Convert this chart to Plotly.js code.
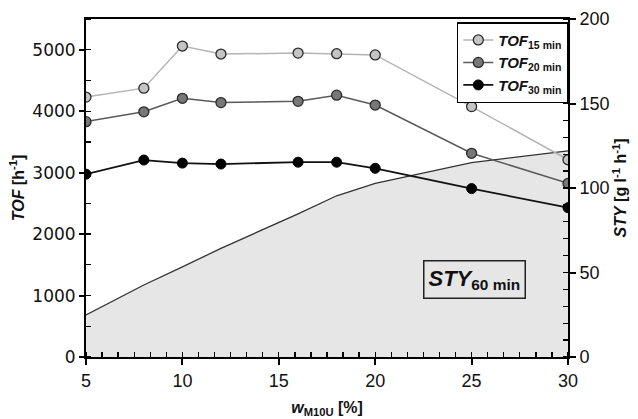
<!DOCTYPE html>
<html>
<head>
<meta charset="utf-8">
<script src="https://cdn.plot.ly/plotly-3.0.1.min.js"></script>
<style>html,body{margin:0;padding:0;background:#fff}#chart{width:638px;height:419px}</style>
</head>
<body>
<div id="chart"></div>
<script>
// Data
const wM10U = [5, 8, 10, 12, 16, 18, 20, 25, 30];
const tof15 = [4230, 4375, 5060, 4930, 4945, 4935, 4915, 4075, 3210];
const tof20 = [3830, 3990, 4210, 4140, 4160, 4260, 4100, 3315, 2825];
const tof30 = [2975, 3205, 3155, 3140, 3170, 3170, 3070, 2740, 2430];
const styX = [5, 8, 10, 12, 16, 18, 20, 25, 30];
const sty60 = [24.9, 42.6, 53.3, 64.3, 84.7, 95.4, 102.8, 115.0, 122.0];

const FONT = 'Liberation Sans, Arial, sans-serif';

// STY on the base (right-side) axis so it is drawn beneath the TOF overlay
const traces = [
  {
    x: styX, y: sty60, yaxis: 'y', type: 'scatter', mode: 'lines',
    fill: 'tozeroy', fillcolor: '#e6e6e6',
    line: {color: '#333333', width: 1.3},
    showlegend: false, hoverinfo: 'skip'
  },
  {
    x: wM10U, y: tof15, yaxis: 'y2', type: 'scatter', mode: 'lines+markers',
    name: '<b><i>TOF</i><sub>15 min</sub></b>',
    line: {color: '#b4b4b4', width: 1.5},
    marker: {size: 10, color: '#c4c4c4', line: {color: '#2a2a2a', width: 1.3}}
  },
  {
    x: wM10U, y: tof20, yaxis: 'y2', type: 'scatter', mode: 'lines+markers',
    name: '<b><i>TOF</i><sub>20 min</sub></b>',
    line: {color: '#5a5a5a', width: 1.5},
    marker: {size: 10, color: '#777777', line: {color: '#2a2a2a', width: 1.3}}
  },
  {
    x: wM10U, y: tof30, yaxis: 'y2', type: 'scatter', mode: 'lines+markers',
    name: '<b><i>TOF</i><sub>30 min</sub></b>',
    line: {color: '#111111', width: 1.8},
    marker: {size: 10, color: '#000000', line: {color: '#000000', width: 1}}
  }
];

const layout = {
  width: 638, height: 419,
  margin: {l: 86, r: 70, t: 19, b: 62},
  paper_bgcolor: '#ffffff', plot_bgcolor: '#ffffff',
  font: {family: FONT, size: 18, color: '#111111'},
  xaxis: {
    range: [5, 30], tickvals: [5, 10, 15, 20, 25, 30],
    showgrid: false, zeroline: false,
    showline: true, linecolor: '#000', linewidth: 2, mirror: true,
    ticks: 'outside', ticklen: 6, tickwidth: 2, tickcolor: '#000',
    minor: {dtick: 5/6, tick0: 5, ticks: 'inside', ticklen: 5, tickwidth: 1.3, tickcolor: '#000', showgrid: false},
    tickfont: {size: 18, family: FONT},
    title: {text: '<b><i>w</i><sub>M10U</sub> [%]</b>', font: {size: 16, family: FONT}, standoff: 12}
  },
  yaxis: {
    side: 'right', anchor: 'x',
    range: [0, 200], tickvals: [0, 50, 100, 150, 200],
    showgrid: false, zeroline: false,
    showline: true, linecolor: '#000', linewidth: 2,
    ticks: 'outside', ticklen: 6, tickwidth: 2, tickcolor: '#000',
    minor: {dtick: 10, ticks: 'inside', ticklen: 5, tickwidth: 1.3, tickcolor: '#000', showgrid: false},
    tickfont: {size: 18, family: FONT},
    title: {text: '<b><i>STY</i> [g l<sup>-1</sup> h<sup>-1</sup>]</b>', font: {size: 16, family: FONT}, standoff: 6}
  },
  yaxis2: {
    overlaying: 'y', side: 'left', anchor: 'x',
    range: [0, 5500], tickvals: [0, 1000, 2000, 3000, 4000, 5000],
    showgrid: false, zeroline: false,
    showline: true, linecolor: '#000', linewidth: 2,
    ticks: 'outside', ticklen: 5, tickwidth: 2, tickcolor: '#000',
    minor: {dtick: 500, ticks: 'inside', ticklen: 5, tickwidth: 1.3, tickcolor: '#000', showgrid: false},
    tickfont: {size: 17, family: 'DejaVu Sans, Liberation Sans, sans-serif'},
    title: {text: '<b><i>TOF</i> [h<sup>-1</sup>]</b>', font: {size: 16, family: FONT}, standoff: 4}
  },
  legend: {
    x: 1, xanchor: 'right', y: 0.99, yanchor: 'top',
    bgcolor: '#ffffff', bordercolor: '#000', borderwidth: 1.3,
    font: {size: 15, family: FONT, color: '#111'},
    tracegroupgap: 0, itemwidth: 30
  },
  annotations: [{
    xref: 'paper', yref: 'paper', x: 0.806, y: 0.228,
    xanchor: 'center', yanchor: 'middle',
    text: '<b><i>STY</i><sub>60 min</sub></b>',
    showarrow: false, font: {size: 22, family: FONT, color: '#111'},
    bordercolor: '#222', borderwidth: 1.5, borderpad: 4
  }],
  showlegend: true
};

Plotly.newPlot('chart', traces, layout, {displayModeBar: false, staticPlot: true});
</script>
</body>
</html>
